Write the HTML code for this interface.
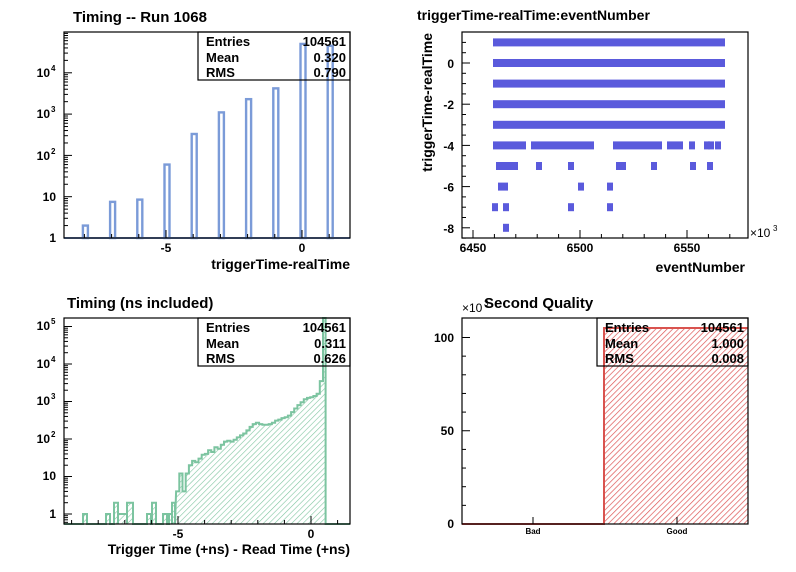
<!DOCTYPE html>
<html><head><meta charset="utf-8"><style>
html,body{margin:0;padding:0;background:#fff;}
svg{display:block;font-family:"Liberation Sans",Arial,sans-serif;font-weight:bold;}
</style></head><body>
<svg id="s" width="796" height="572" viewBox="0 0 796 572" xmlns="http://www.w3.org/2000/svg">
<defs>
<pattern id="hg" width="4" height="4" patternUnits="userSpaceOnUse" patternTransform="rotate(45)"><line x1="0" y1="0" x2="0" y2="4" stroke="#7fc4a0" stroke-width="1.2"/></pattern>
<pattern id="hr" width="4" height="4" patternUnits="userSpaceOnUse" patternTransform="rotate(45)"><line x1="0" y1="0" x2="0" y2="4" stroke="#dd5555" stroke-width="1.4"/></pattern>
</defs>
</svg>
<script>
var s=document.getElementById('s'),h='';
function L(x1,y1,x2,y2,c,w,extra){h+='<line x1="'+x1+'" y1="'+y1+'" x2="'+x2+'" y2="'+y2+'" stroke="'+(c||'#000')+'" stroke-width="'+(w||1)+'" '+(extra||'')+'/>';}
function T(x,y,t,sz,anch,extra){h+='<text x="'+x+'" y="'+y+'" font-size="'+sz+'" text-anchor="'+(anch||'start')+'" '+(extra||'')+'>'+t+'</text>';}
function R(x,y,w,hh,f,st,sw){h+='<rect x="'+x+'" y="'+y+'" width="'+w+'" height="'+hh+'" fill="'+f+'" stroke="'+(st||'none')+'" stroke-width="'+(sw||1)+'"/>';}
function lg(v){return Math.log(v)/Math.LN10;}
function stats(x,y,w,m,r){R(x,y,w,48,'none','#000',1.2);
 T(x+8,y+14,'Entries',13);T(x+w-4,y+14,'104561',13,'end');
 T(x+8,y+30,'Mean',13);T(x+w-4,y+30,m,13,'end');
 T(x+8,y+45,'RMS',13);T(x+w-4,y+45,r,13,'end');}
function logY(x0,y1v,dec,top,bot,maxd){for(var d=-1;d<=maxd;d++){for(var k=1;k<10;k++){var y=y1v-dec*(d+lg(k));if(y<top||y>bot)continue;L(x0,y,x0+(k==1?8:4),y);}}}
/* Pad 1 */
function X1(v){return 302+27.2*v;} function Y1(v){return 238-41.3*lg(v);}
T(73,22,'Timing -- Run 1068',15);
var b1=[[-8,2],[-7,7.5],[-6,8.5],[-5,60],[-4,330],[-3,1100],[-2,2300],[-1,4200],[0,50000],[1,45000]];
b1.forEach(function(b){var x=X1(b[0])+1,y=Math.max(Y1(b[1]),33);R(x-2.5,y,5,238-y,'none','#7b9bd8',2.4);L(x,y+2,x,238,'#fff',1,'stroke-dasharray="3,2"');});
L(64,238,350,238,'#7b9bd8',2);
R(64,32,286,206,'none','#000',1.2);
logY(64,238,41.3,32,238,5);
for(var v=-8;v<=1;v++){L(X1(v),238,X1(v),238-(v%5==0?8:4));}
T(X1(-5),252,'-5',12,'middle');T(X1(0),252,'0',12,'middle');
T(56,242,'1',12,'end');T(56,201,'10',12,'end');
[[2,160],[3,118],[4,77]].forEach(function(a){T(50,a[1],'10',12,'end');T(51,a[1]-6,a[0],8);});
T(350,269,'triggerTime-realTime',14,'end');
stats(198,32,152,'0.320','0.790');
/* Pad 2 */
function X2(v){return 580+2.14*(v-6500);} function Y2(v){return 63-20.6*v;}
T(417,20,'triggerTime-realTime:eventNumber',14);
var col='#5a5adc';
[1,0,-1,-2,-3].forEach(function(v){R(493,Y2(v)-4,232,8,col);});
function seg(a,b,v){R(a,Y2(v)-4,b-a,8,col);}
[[493,526],[531,594],[613,662],[667,683]].forEach(function(p){seg(p[0],p[1],-4);});
[692,707,711,718].forEach(function(x){seg(x-3,x+3,-4);});
seg(496,518,-5);[539,571,619,623,654,693,710].forEach(function(x){seg(x-3,x+3,-5);});
seg(498,508,-6);[581,610].forEach(function(x){seg(x-3,x+3,-6);});
[495,506,571,610].forEach(function(x){seg(x-3,x+3,-7);});seg(503,509,-8);
R(462,32,286,206,'none','#000',1.2);
for(var v=-8.5;v<=1.4;v+=0.5){var y=Y2(v);L(462,y,462+(Math.abs(v%2)<0.01?8:4),y);}
for(var v=6450;v<=6580;v+=10){var x=X2(v);if(x<462||x>748)continue;L(x,238,x,238-(v%50==0?8:4));}
[0,-2,-4,-6,-8].forEach(function(v){T(454,Y2(v)+5,v,12,'end');});
[6450,6500,6550].forEach(function(v){T(X2(v),252,v,12,'middle');});
T(750,237,'×10',12,'start','font-weight="normal"');T(773,231,'3',8,'start','font-weight="normal"');
T(745,272,'eventNumber',14,'end');
T(432,33,'triggerTime-realTime',14,'end','transform="rotate(-90 432 33)"');
/* Pad 3 */
function X3(v){return 311+26.6*v;} function Y3(v){return Math.min(524,Math.max(318,514-37.5*lg(v)));}
T(67,308,'Timing (ns included)',15);
var vals=[4,12,4,12,20,26,24,30,38,40,50,45,60,55,70,85,90,85,95,110,125,140,170,210,250,270,250,240,240,250,270,310,330,360,380,420,520,650,800,950,1150,1250,1300,1400,1600,3500];
var pts=[[64,524]];
[[83,87,1],[106,110,1],[114,118,2],[118,127,1],[127,133,2],[147,151,1],[152,156,2],[163,167,1],[169,172,1],[172,175,2]].forEach(function(b){var y=Y3(b[2]);pts.push([b[0],524],[b[0],y],[b[1],y],[b[1],524]);});
var w=0.12,x0=-5.07;
for(var i=0;i<vals.length;i++){var a=X3(x0+i*w),b=X3(x0+(i+1)*w),y=Y3(vals[i]);pts.push([a,y],[b,y]);}
var xe=X3(x0+vals.length*w),xs=X3(0.55);pts.push([xe,318],[xs,318],[xs,524],[350,524]);
var d='M'+pts.map(function(p){return p[0].toFixed(1)+','+p[1].toFixed(1);}).join(' L');
h+='<path d="'+d+' Z" fill="url(#hg)" stroke="none"/>';
h+='<path d="'+d+'" fill="none" stroke="#7cc4a0" stroke-width="2"/>';
R(64,318,286,206,'none','#000',1.2);
logY(64,514,37.5,318,524,5);
for(var v=-9;v<=1;v++){var x=X3(v);if(x<64)continue;L(x,524,x,524-(v%5==0?8:4));}
T(X3(-5),538,'-5',12,'middle');T(X3(0),538,'0',12,'middle');
T(56,518,'1',12,'end');T(56,480,'10',12,'end');
[[2,443],[3,405],[4,368],[5,330]].forEach(function(a){T(50,a[1],'10',12,'end');T(51,a[1]-6,a[0],8);});
T(350,554,'Trigger Time (+ns) - Read Time (+ns)',14,'end');
stats(198,318,152,'0.311','0.626');
/* Pad 4 */
function Y4(v){return 524-1.865*v;}
T(484,308,'Second Quality',15);
R(604,328,144,196,'url(#hr)','none');
h+='<path d="M462,524 L604,524 L604,328 L748,328" fill="none" stroke="#d9534f" stroke-width="2"/>';
R(462,318,286,206,'none','#000',1.2);
for(var v=0;v<=105;v+=10){L(462,Y4(v),462+(v%50==0?8:4),Y4(v));}
T(454,528,'0',12,'end');T(454,435,'50',12,'end');T(454,342,'100',12,'end');
T(462,312,'×10',12,'start','font-weight="normal"');T(484,306,'3',8,'start','font-weight="normal"');
L(533,524,533,517);L(677,524,677,517);
T(533,534,'Bad',8,'middle');T(677,534,'Good',8,'middle');
stats(597,318,151,'1.000','0.008');
s.innerHTML+=h;
</script>
</body></html>
